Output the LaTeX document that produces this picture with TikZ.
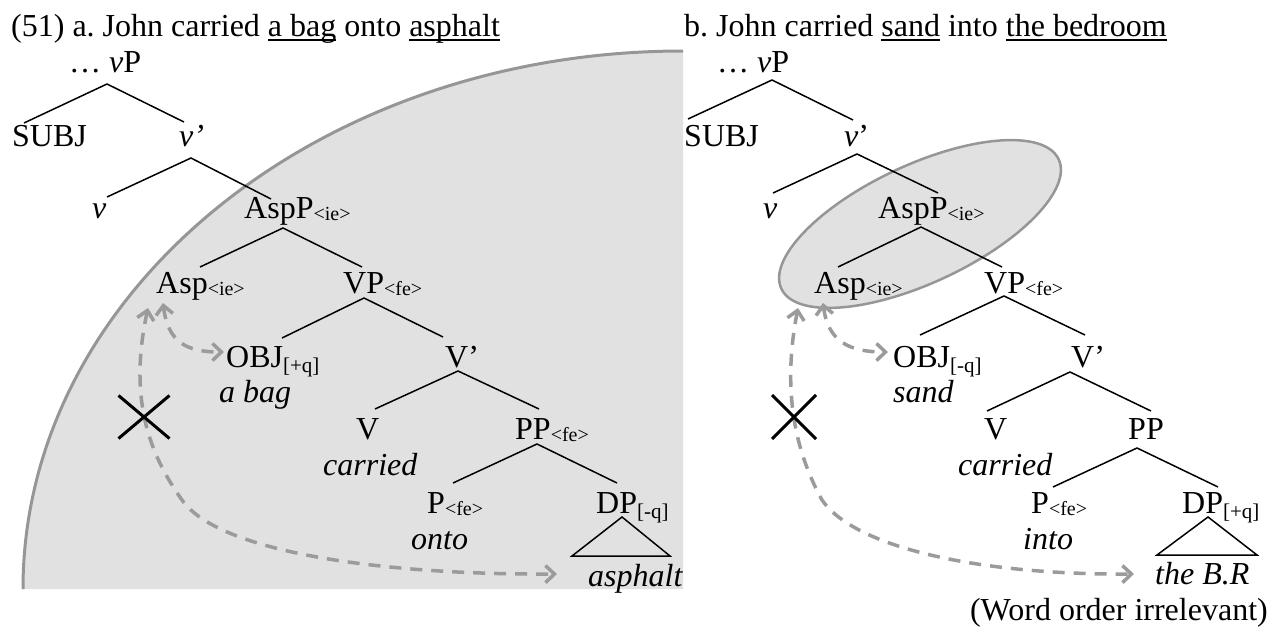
\documentclass[tikz,border=0pt]{standalone}
\usepackage{fontspec}
\setmainfont{Liberation Serif}
\usetikzlibrary{arrows.meta,shapes.misc}
\definecolor{regiongray}{RGB}{225,225,225}
\definecolor{edgegray}{RGB}{150,150,150}
\definecolor{arrowgray}{RGB}{155,155,155}
\newcommand\ulw[1]{\setbox0\hbox{#1}\rlap{\rule[-4.5pt]{\wd0}{1.6pt}}#1}
\newcommand\subA[1]{\raisebox{-2pt}{\fontsize{20}{20}\selectfont #1}}
\newcommand\subB[1]{\raisebox{-5pt}{\fontsize{21}{21}\selectfont #1}}
\frenchspacing
\begin{document}
\begin{tikzpicture}[x=1pt,y=-1pt,
  font=\fontsize{32}{38}\selectfont,
  lbl/.style={inner sep=0pt,anchor=base west},
  branch/.style={line width=1.5pt},
  mv/.style={draw=arrowgray,line width=3.5pt,dash pattern=on 12pt off 9pt,
    {Straight Barb[length=9pt,width=17pt]}-{Straight Barb[length=9pt,width=17pt]}},
  xmark/.style={cross out,draw=black,line width=3pt,inner sep=0pt}]
\useasboundingbox (0,0) rectangle (1269,629);
% shaded regions
\fill[regiongray] (683,589) -- (23,589) arc[start angle=180,end angle=90,x radius=660pt,y radius=538pt] -- cycle;
\draw[edgegray,line width=3pt] (23,589) arc[start angle=180,end angle=90,x radius=660pt,y radius=538pt];
\draw[edgegray,fill=regiongray,line width=2.5pt,rotate around={25:(920,224)}] (920,224) ellipse[x radius=153pt,y radius=59pt];

% ---------- titles ----------
\node[lbl] (tA) at (11,36) {(51) a. John carried \ulw{a bag} onto \ulw{asphalt}};
\node[lbl] (tB) at (684,36) {b. John carried \ulw{sand} into \ulw{the bedroom}};

% ---------- left tree ----------
\node[lbl] (lvP) at (69,72) {\dots\ \textit{v}P};
\node[lbl] (lSUBJ) at (12,146) {SUBJ};
\node[lbl] (lvb) at (179,146) {\textit{v’}};
\node[lbl] (lv) at (92,218) {\textit{v}};
\node[lbl] (lAspP) at (244,218) {AspP\subA{<ie>}};
\node[lbl] (lAsp) at (156,293) {Asp\subA{<ie>}};
\node[lbl] (lVP) at (343,293) {VP\subA{<fe>}};
\node[lbl] (lOBJ) at (226,367) {OBJ\subB{[+q]}};
\node[lbl] (lOBJw) at (219,402) {\textit{a bag}};
\node[lbl] (lVb) at (445,367) {V’};
\node[lbl] (lV) at (356,439) {V};
\node[lbl] (lVw) at (323,475) {\textit{carried}};
\node[lbl] (lPP) at (515,439) {PP\subA{<fe>}};
\node[lbl] (lP) at (427,513) {P\subA{<fe>}};
\node[lbl] (lPw) at (411,549) {\textit{onto}};
\node[lbl] (lDP) at (596,513) {DP\subB{[-q]}};
\node[lbl] (lDPw) at (588,586) {\textit{asphalt}};

\coordinate (la0) at (107,84);  \coordinate (la0l) at (24,123);  \coordinate (la0r) at (184,122);
\coordinate (la1) at (191,158); \coordinate (la1l) at (107,197); \coordinate (la1r) at (271,199);
\coordinate (la2) at (283,228); \coordinate (la2l) at (200,267); \coordinate (la2r) at (362,267);
\coordinate (la3) at (364,298); \coordinate (la3l) at (282,338); \coordinate (la3r) at (443,337);
\coordinate (la4) at (458,371); \coordinate (la4l) at (375,409); \coordinate (la4r) at (539,409);
\coordinate (la5) at (537,444); \coordinate (la5l) at (453,483); \coordinate (la5r) at (617,483);
\coordinate (ltri) at (622,517); \coordinate (ltril) at (572,556); \coordinate (ltrir) at (670,556);
\foreach \n in {0,...,5} {\draw[branch] (la\n l) -- (la\n) -- (la\n r);}
\draw[branch] (ltri) -- (ltril) -- (ltrir) -- cycle;

% ---------- right tree ----------
\node[lbl] (rvP) at (717,72) {\dots\ \textit{v}P};
\node[lbl] (rSUBJ) at (684,146) {SUBJ};
\node[lbl] (rvb) at (844,146) {\textit{v}’};
\node[lbl] (rv) at (763,218) {\textit{v}};
\node[lbl] (rAspP) at (878,218) {AspP\subA{<ie>}};
\node[lbl] (rAsp) at (814,293) {Asp\subA{<ie>}};
\node[lbl] (rVP) at (984,293) {VP\subA{<fe>}};
\node[lbl] (rOBJ) at (893,367) {OBJ\subB{[-q]}};
\node[lbl] (rOBJw) at (893,402) {\textit{sand}};
\node[lbl] (rVb) at (1071,367) {V’};
\node[lbl] (rV) at (984,439) {V};
\node[lbl] (rVw) at (958,475) {\textit{carried}};
\node[lbl] (rPP) at (1128,439) {PP};
\node[lbl] (rP) at (1031,513) {P\subA{<fe>}};
\node[lbl] (rPw) at (1023,549) {\textit{into}};
\node[lbl] (rDP) at (1182,513) {DP\subB{[+q]}};
\node[lbl] (rDPw) at (1155,584) {\textit{the B.R}};
\node[inner sep=0pt,anchor=base east] (note) at (1268,620) {(Word order irrelevant)};

\coordinate (ra0) at (772,80);   \coordinate (ra0l) at (688,119);  \coordinate (ra0r) at (853,120);
\coordinate (ra1) at (857,154);  \coordinate (ra1l) at (773,193);  \coordinate (ra1r) at (938,193);
\coordinate (ra2) at (921,227);  \coordinate (ra2l) at (838,267);  \coordinate (ra2r) at (1002,267);
\coordinate (ra3) at (1004,296); \coordinate (ra3l) at (920,335);  \coordinate (ra3r) at (1085,335);
\coordinate (ra4) at (1070,372); \coordinate (ra4l) at (987,411);  \coordinate (ra4r) at (1151,411);
\coordinate (ra5) at (1137,448); \coordinate (ra5l) at (1053,487); \coordinate (ra5r) at (1218,487);
\coordinate (rtri) at (1208,517); \coordinate (rtril) at (1157,555); \coordinate (rtrir) at (1257,555);
\foreach \n in {0,...,5} {\draw[branch] (ra\n l) -- (ra\n) -- (ra\n r);}
\draw[branch] (rtri) -- (rtril) -- (rtrir) -- cycle;

% ---------- movement arrows ----------
\coordinate (lA1) at (163,303); \coordinate (lB1) at (224,352);
\coordinate (lA2) at (148,308); \coordinate (lM2) at (182,500); \coordinate (lB2) at (557,574);
\draw[mv] (lA1) .. controls (168,342) and (186,352) .. (lB1);
\draw[mv] (lA2) .. controls (128,400) and (150,455) .. (lM2) .. controls (220,554) and (390,575) .. (lB2);

\coordinate (rA1) at (823,303); \coordinate (rB1) at (888,352);
\coordinate (rA2) at (798,308); \coordinate (rM2) at (822,500); \coordinate (rB2) at (1134,574);
\draw[mv] (rA1) .. controls (828,342) and (850,352) .. (rB1);
\draw[mv] (rA2) .. controls (780,400) and (800,460) .. (rM2) .. controls (855,548) and (980,575) .. (rB2);

% ---------- crosses ----------
\node[xmark,minimum width=48pt,minimum height=40pt] (lx) at (144,417) {};
\node[xmark,minimum width=41pt,minimum height=41pt] (rx) at (794,417) {};
\end{tikzpicture}
\end{document}
